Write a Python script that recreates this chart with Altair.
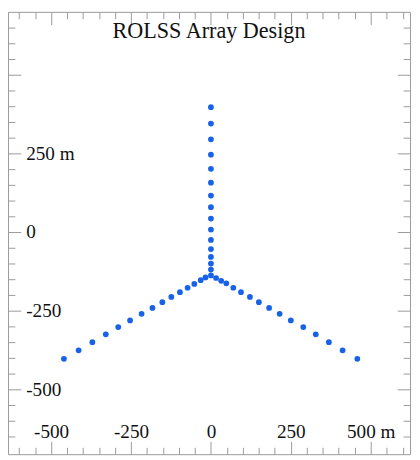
import altair as alt
import pandas as pd

# Array element positions (metres)
hub_x = [0]
hub_y = [-138]
arm_n_x = [0, 0, 0, 0, 0, 0, 0, 0, 0, 0, 0, 0, 0, 0, 0]
arm_n_y = [397, 345, 295, 246, 201, 157, 116, 79, 43, 8, -25, -54, -79, -100, -119]
arm_sw_x = [-460, -414, -371, -329, -290, -253, -217, -183, -152, -124, -97, -73, -52, -32, -17]
arm_sw_y = [-403, -376, -350, -325, -302, -281, -260, -241, -223, -206, -191, -177, -165, -153, -144]
arm_se_x = [16, 32, 48, 70, 94, 122, 150, 182, 215, 250, 289, 328, 369, 412, 458]
arm_se_y = [-146, -155, -163, -177, -191, -206, -223, -241, -260, -281, -302, -325, -350, -376, -403]

# Axis ticks and labels
x_major = [-500, -250, 0, 250, 500]
x_minor = [-600, -550, -450, -400, -350, -300, -200, -150, -100, -50,
           50, 100, 150, 200, 300, 350, 400, 450, 550, 600]
y_major = [-500, -250, 0, 250, 500]
y_minor = [-650, -600, -550, -450, -400, -350, -300, -200, -150, -100, -50,
           50, 100, 150, 200, 300, 350, 400, 450, 550, 600, 650]
x_label_vals = [-500, -250, 0, 250, 500]
x_label_text = ["-500", "-250", "0", "250", "500 m"]
y_label_vals = [-500, -250, 0, 250]
y_label_text = ["-500", "-250", "0", "250 m"]

xs = hub_x + arm_n_x + arm_sw_x + arm_se_x
ys = hub_y + arm_n_y + arm_sw_y + arm_se_y
df = pd.DataFrame({"x": xs, "y": ys})

BLUE = "#1862e8"
GRAY = "#9a9a9a"
FONT = "Liberation Serif"
FS = 19.5

xscale = alt.Scale(domain=[-635, 623], nice=False, zero=False)
yscale = alt.Scale(domain=[-706, 700], nice=False, zero=False)


def expr(vals, texts):
    return " : ".join(f"datum.value == {v} ? '{t}'" for v, t in zip(vals, texts)) + " : ''"


def tick_axis(orient, values, size):
    return alt.Axis(orient=orient, values=values, tickSize=size, offset=-size,
                    labels=False, domain=False, grid=False, ticks=True,
                    tickColor=GRAY, tickWidth=1, title=None)


def layer(xaxis, yaxis, visible=False):
    return alt.Chart(df).mark_circle(size=34, color=BLUE, opacity=1 if visible else 0).encode(
        x=alt.X("x:Q", scale=xscale, axis=xaxis),
        y=alt.Y("y:Q", scale=yscale, axis=yaxis),
    )


x_lab_axis = alt.Axis(orient="bottom", values=x_label_vals, ticks=False, domain=False, grid=False,
                      labelPadding=-17, labelBaseline="alphabetic", labelFont=FONT,
                      labelFontSize=FS, labelColor="#111", labelExpr=expr(x_label_vals, x_label_text),
                      labelFlush=False, labelOverlap=False, labelBound=False, title=None)
y_lab_axis = alt.Axis(orient="left", values=y_label_vals, ticks=False, domain=False, grid=False,
                      labelPadding=-18, labelAlign="left", labelBaseline="middle", labelFont=FONT,
                      labelFontSize=FS, labelColor="#111", labelExpr=expr(y_label_vals, y_label_text),
                      labelFlush=False, labelOverlap=False, labelBound=False, title=None)

chart = alt.layer(
    layer(tick_axis("bottom", x_major, 13), tick_axis("left", y_major, 13)),
    layer(tick_axis("top", x_major, 13), tick_axis("right", y_major, 13)),
    layer(tick_axis("bottom", x_minor, 7), tick_axis("left", y_minor, 7)),
    layer(tick_axis("top", x_minor, 7), tick_axis("right", y_minor, 7)),
    layer(x_lab_axis, y_lab_axis, visible=True),
).resolve_axis(x="independent", y="independent").properties(
    width=409,
    height=450,
    autosize=alt.AutoSizeParams(type="none"),
    padding={"left": 0, "top": 0, "right": 2, "bottom": 2},
    title=alt.TitleParams("ROLSS Array Design", font=FONT, fontSize=22.5, fontWeight="normal",
                          color="#111", offset=-50, baseline="alphabetic", anchor="middle"),
).configure_view(stroke=GRAY, strokeWidth=1)

chart.save("out.html", embed_options={"renderer": "svg", "actions": False})
